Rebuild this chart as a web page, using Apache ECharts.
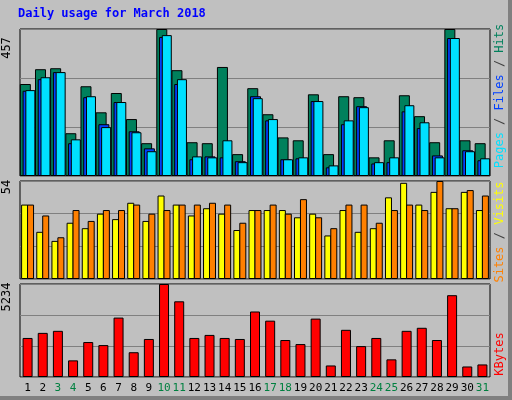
<!DOCTYPE html>
<html><head><meta charset="utf-8">
<script src="https://cdn.jsdelivr.net/npm/echarts@6/dist/echarts.min.js"></script>
<style>html,body{margin:0;padding:0;background:#c0c0c0}#c{width:512px;height:400px}</style>
</head><body><div id="c"></div>
<script>
const days = Array.from({length:31},(_,i)=>String(i+1));
const weekend = ['3','4','10','11','17','18','24','25','31'];
const hits  = [286,332,335,133,279,198,258,177,102,457,329,105,102,339,68,273,192,120,111,254,68,248,245,58,111,251,186,105,457,111,102];
const files = [265,301,323,102,245,161,230,139,86,432,286,52,61,58,46,248,173,52,55,233,27,161,217,39,43,201,149,64,429,80,49];
const pages = [267,307,323,114,248,152,230,136,77,438,301,61,58,111,43,242,177,52,58,233,33,173,214,43,58,220,167,58,429,77,55];
const sites = [41,26,21,31,28,36,33,42,32,46,41,35,39,36,27,38,38,38,34,36,24,38,26,28,45,53,41,48,39,48,38];
const visits= [41,35,23,38,32,38,38,41,36,38,41,41,42,41,31,38,41,36,44,34,28,41,41,31,38,41,38,54,39,49,46];
const kbytes= [2197,2483,2598,936,1968,1796,3343,1394,2140,5234,4260,2197,2369,2197,2140,3687,3171,2082,1853,3286,649,2655,1738,2197,993,2598,2770,2082,4604,592,707];
const maxTop=457, maxMid=54, maxBot=5234;

const font='DejaVu Sans Mono';
const grids=[
 {left:20,right:22,top:29,height:147},
 {left:20,right:22,top:181,height:98},
 {left:20,right:22,top:284,height:93}
].map(g=>Object.assign(g,{show:true,borderColor:'#000',borderWidth:1,backgroundColor:'#c0c0c0'}));
const mkX=(i,labels)=>({type:'category',gridIndex:i,data:days,axisLine:{show:false},axisTick:{show:false},
  axisLabel:labels?{show:true,margin:6,fontFamily:font,fontSize:11,interval:0,
    formatter:v=>weekend.includes(v)?'{w|'+v+'}':'{d|'+v+'}',
    rich:{w:{color:'#008040',fontFamily:font,fontSize:11},d:{color:'#000',fontFamily:font,fontSize:11}}}:{show:false}});
const mkY=(i,max)=>({type:'value',gridIndex:i,min:0,max:max,interval:max/3,axisLabel:{show:false},axisLine:{show:false},axisTick:{show:false},
  splitLine:{show:true,lineStyle:{color:'#808080',width:1}}});
const bs=(c)=>({color:c,borderColor:'#000',borderWidth:1});
const opt={
 animation:false,backgroundColor:'#c0c0c0',
 grid:grids,
 xAxis:[mkX(0,false),mkX(1,false),mkX(2,true)],
 yAxis:[mkY(0,maxTop),mkY(1,maxMid),mkY(2,maxBot)],
 series:[
  {type:'bar',name:'Hits',xAxisIndex:0,yAxisIndex:0,data:hits,barWidth:11,barGap:'-75%',itemStyle:bs('#00805c')},
  {type:'bar',name:'Files',xAxisIndex:0,yAxisIndex:0,data:files,barWidth:11,barGap:'-75%',itemStyle:bs('#0040ff')},
  {type:'bar',name:'Pages',xAxisIndex:0,yAxisIndex:0,data:pages,barWidth:10,barGap:'-75%',itemStyle:bs('#00e0ff')},
  {type:'bar',name:'Sites',xAxisIndex:1,yAxisIndex:1,data:sites,barWidth:7,barGap:'-15%',itemStyle:bs('#ffff00')},
  {type:'bar',name:'Visits',xAxisIndex:1,yAxisIndex:1,data:visits,barWidth:7,barGap:'-15%',itemStyle:bs('#ff8000')},
  {type:'bar',name:'KBytes',xAxisIndex:2,yAxisIndex:2,data:kbytes,barWidth:10,itemStyle:bs('#ff0000')}
 ],
 graphic:[
  {type:'rect',shape:{x:508,y:0,width:4,height:400},style:{fill:'#808080'},silent:true},
  {type:'rect',shape:{x:0,y:396,width:512,height:4},style:{fill:'#808080'},silent:true},
  {type:'text',left:18,top:8,style:{text:'Daily usage for March 2018',fill:'#0000ff',font:'bold 12px "DejaVu Sans Mono"'}},
  {type:'text',x:7,y:48,rotation:Math.PI/2,style:{text:'457',fill:'#000',font:'12px "DejaVu Sans Mono"',align:'center',verticalAlign:'middle'}},
  {type:'text',x:7,y:187,rotation:Math.PI/2,style:{text:'54',fill:'#000',font:'12px "DejaVu Sans Mono"',align:'center',verticalAlign:'middle'}},
  {type:'text',x:7,y:297,rotation:Math.PI/2,style:{text:'5234',fill:'#000',font:'12px "DejaVu Sans Mono"',align:'center',verticalAlign:'middle'}},
  {type:'text',x:500,y:96,rotation:Math.PI/2,style:{
    rich:{p:{fill:'#00e0ff',font:'12px "DejaVu Sans Mono"'},f:{fill:'#0040ff',font:'12px "DejaVu Sans Mono"'},h:{fill:'#00805c',font:'12px "DejaVu Sans Mono"'},s:{fill:'#404040',font:'12px "DejaVu Sans Mono"'}},
    text:'{p|Pages}{s| / }{f|Files}{s| / }{h|Hits}',align:'center',verticalAlign:'middle'}},
  {type:'text',x:500,y:232,rotation:Math.PI/2,style:{
    rich:{a:{fill:'#ff8000',font:'12px "DejaVu Sans Mono"'},b:{fill:'#ffff00',font:'12px "DejaVu Sans Mono"'},s:{fill:'#404040',font:'12px "DejaVu Sans Mono"'}},
    text:'{a|Sites}{s| / }{b|Visits}',align:'center',verticalAlign:'middle'}},
  {type:'text',x:500,y:354,rotation:Math.PI/2,style:{text:'KBytes',fill:'#ff0000',font:'12px "DejaVu Sans Mono"',align:'center',verticalAlign:'middle'}}
 ]
};
echarts.init(document.getElementById('c')).setOption(opt);
</script></body></html>
